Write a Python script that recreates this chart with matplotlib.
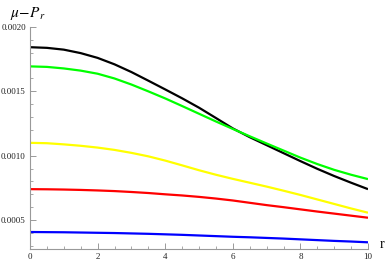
import matplotlib
matplotlib.use("Agg")
import matplotlib.pyplot as plt
import numpy as np
from matplotlib.ticker import MultipleLocator

# values in units of 1e-6
r = [0, 0.5, 1, 1.5, 2, 2.5, 3, 3.5, 4, 4.5, 5, 5.5, 6, 6.5, 7, 7.5, 8, 8.5, 9, 9.5, 10]
black = [1843, 1838, 1824, 1797, 1760, 1710, 1650, 1583, 1515, 1446, 1373, 1293, 1212, 1144, 1082, 1020, 958, 898, 842, 790, 740]
green = [1694, 1690, 1678, 1661, 1637, 1600, 1553, 1500, 1445, 1386, 1326, 1266, 1208, 1151, 1095, 1040, 985, 935, 890, 852, 818]
yellow = [1100, 1097, 1088, 1077, 1063, 1045, 1022, 995, 962, 925, 887, 852, 820, 790, 760, 728, 695, 660, 625, 590, 557]
red = [740, 739, 737, 734, 730, 725, 718, 710, 700, 691, 680, 667, 652, 634, 616, 600, 583, 566, 550, 534, 518]
blue = [407, 406, 405, 403, 401, 399, 396, 393, 389, 385, 380, 375, 370, 366, 361, 356, 350, 344, 338, 333, 327]

xticks = [0, 2, 4, 6, 8, 10]
yticks = [0.0005, 0.0010, 0.0015, 0.0020]
ytick_labels = ["0.0005", "0.0010", "0.0015", "0.0020"]

plt.rcParams['mathtext.fontset'] = 'stix'
fig = plt.figure(figsize=(3.9, 2.6), dpi=100)
ax = fig.add_axes([30/390, 11/260, 338/390, 222/260])

series = [(black, "#000000"), (green, "#00ff00"), (yellow, "#ffff00"), (red, "#ff0000"), (blue, "#0000ff")]
for vals, c in series:
    ax.plot(r, np.array(vals) * 1e-6, color=c, lw=1.6, solid_capstyle='butt')

ax.set_xlim(0, 10)
ax.set_ylim(0.000275, 0.0020)
for s in ['top', 'right']:
    ax.spines[s].set_visible(False)
for s in ['left', 'bottom']:
    ax.spines[s].set_color('#999999')
    ax.spines[s].set_linewidth(0.8)

ax.set_xticks(xticks)
ax.set_xticklabels([str(t) for t in xticks])
ax.set_yticks(yticks)
ax.set_yticklabels(ytick_labels)
ax.xaxis.set_minor_locator(MultipleLocator(0.5))
ax.yaxis.set_minor_locator(MultipleLocator(0.0001))
ax.tick_params(which='major', direction='in', length=4, width=0.7, color='#999999',
               labelsize=6.5, pad=3, labelcolor='#222222')
ax.tick_params(which='minor', direction='in', length=2.3, width=0.6, color='#999999')
for lbl in ax.get_xticklabels() + ax.get_yticklabels():
    lbl.set_fontfamily('Liberation Serif')

fig.text(28/390, 1 - 14/260, r'$\mu\!-\!P_r$', fontsize=11, ha='center', va='center')
fig.text(382/390, 1 - 245/260, 'r', fontsize=10, family='Liberation Serif', ha='center', va='center')

fig.savefig('out.png', dpi=100)
